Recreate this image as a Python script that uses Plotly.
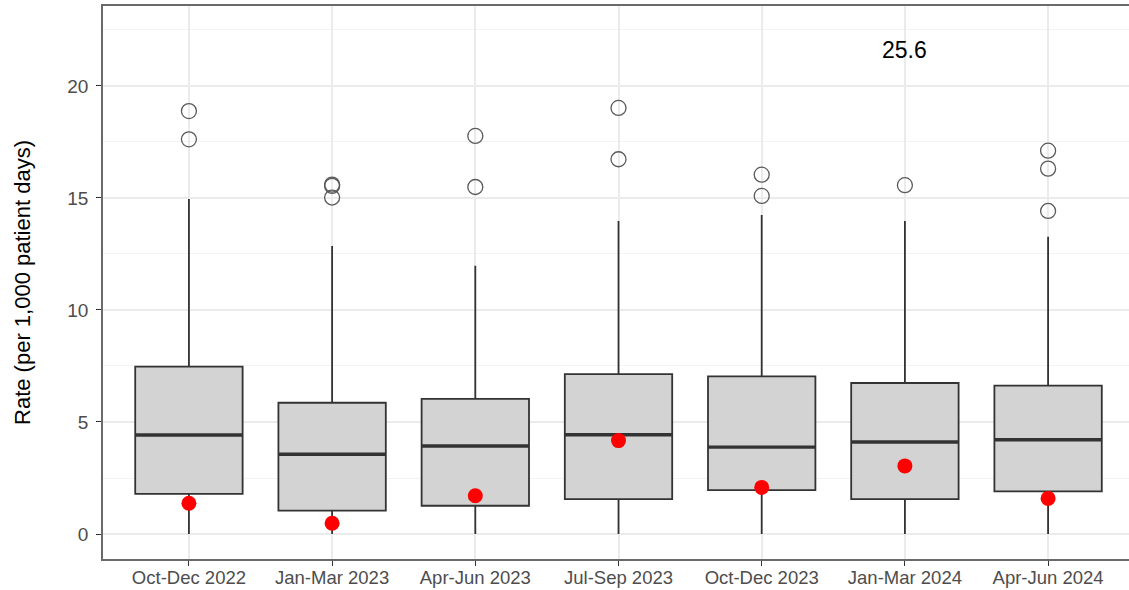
import plotly.graph_objects as go

categories = ["Oct-Dec 2022", "Jan-Mar 2023", "Apr-Jun 2023", "Jul-Sep 2023",
              "Oct-Dec 2023", "Jan-Mar 2024", "Apr-Jun 2024"]
lower_whisker = [0, 0, 0, 0, 0, 0, 0]
q1 = [1.79, 1.04, 1.26, 1.56, 1.96, 1.56, 1.90]
median = [4.42, 3.56, 3.93, 4.43, 3.88, 4.11, 4.21]
q3 = [7.47, 5.86, 6.03, 7.14, 7.04, 6.74, 6.62]
upper_whisker = [14.96, 12.86, 11.98, 13.97, 14.24, 13.97, 13.27]
outliers = [
    [18.88, 17.62],
    [15.60, 15.54, 15.02],
    [17.77, 15.49],
    [19.02, 16.73],
    [16.04, 15.09],
    [15.57],
    [17.11, 16.31, 14.42],
]
highlight = [1.37, 0.48, 1.71, 4.17, 2.08, 3.04, 1.59]
annotation_cat = 5
annotation_value = 21.6
annotation_text = "25.6"

xs = list(range(len(categories)))
box_w = 0.75

fig = go.Figure()

fig.add_trace(go.Box(
    x=xs, q1=q1, median=median, q3=q3,
    lowerfence=lower_whisker, upperfence=upper_whisker,
    width=box_w, fillcolor="#d3d3d3",
    line=dict(color="#333333", width=1.8),
    whiskerwidth=0, showlegend=False, hoverinfo="skip",
))

# thicker median lines (ggplot style)
mx, my = [], []
for i, m in zip(xs, median):
    mx += [i - box_w / 2, i + box_w / 2, None]
    my += [m, m, None]
fig.add_trace(go.Scatter(x=mx, y=my, mode="lines",
                         line=dict(color="#333333", width=3.4),
                         showlegend=False, hoverinfo="skip"))

ox, oy = [], []
for i, vals in zip(xs, outliers):
    for v in vals:
        ox.append(i)
        oy.append(v)
fig.add_trace(go.Scatter(x=ox, y=oy, mode="markers",
                         marker=dict(symbol="circle-open", size=15, color="#5a5a5a",
                                     line=dict(color="#5a5a5a", width=1.3)),
                         showlegend=False, hoverinfo="skip"))

fig.add_trace(go.Scatter(x=xs, y=highlight, mode="markers",
                         marker=dict(color="#ff0000", size=15),
                         showlegend=False, hoverinfo="skip"))

fig.add_annotation(x=annotation_cat, y=annotation_value, text=annotation_text,
                   showarrow=False, font=dict(size=23, color="#000000"),
                   xanchor="center", yanchor="middle")

fig.update_layout(
    width=1129, height=590,
    margin=dict(l=103, r=0, t=6, b=31),
    paper_bgcolor="white", plot_bgcolor="white",
    font=dict(family="Liberation Sans, Arial, sans-serif"),
)
fig.update_xaxes(
    range=[-0.6, 6.565], tickmode="array", tickvals=xs, ticktext=categories,
    automargin=False,
    showgrid=True, gridcolor="#ebebeb", gridwidth=1.5,
    zeroline=False,
    showline=True, mirror=True, linecolor="#6a6a6a", linewidth=1.5,
    ticks="outside", ticklen=5, tickcolor="#333333", tickwidth=1.3,
    ticklabelstandoff=-4,
    tickfont=dict(size=18.5, color="#4d4d4d"),
)
fig.update_yaxes(
    range=[-1.116, 23.57], tickmode="array", tickvals=[0, 5, 10, 15, 20],
    automargin=False,
    showgrid=True, gridcolor="#ebebeb", gridwidth=1.5,
    minor=dict(tickvals=[2.5, 7.5, 12.5, 17.5, 22.5], showgrid=True,
               gridcolor="#f3f3f3", gridwidth=1),
    zeroline=False,
    showline=True, mirror=False, linecolor="#6a6a6a", linewidth=1.5,
    ticks="outside", ticklen=5, tickcolor="#333333", tickwidth=1.3,
    ticklabelstandoff=4,
    tickfont=dict(size=19, color="#4d4d4d"),
    title=dict(text="Rate (per 1,000 patient days)", font=dict(size=22, color="#000000"),
               standoff=31),
)

fig.write_html("out.html")
